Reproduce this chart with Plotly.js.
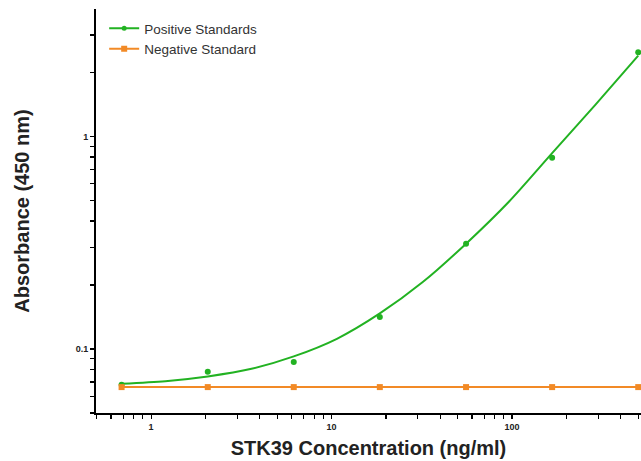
<!DOCTYPE html>
<html>
<head>
<meta charset="utf-8">
<script src="https://cdn.plot.ly/plotly-3.0.1.min.js"></script>
<style>html,body{margin:0;padding:0;background:#fff;}#chart{width:641px;height:461px;}</style>
</head>
<body>
<div id="chart"></div>
<script>
// Concentrations (ng/ml)
var concentrations = [0.686, 2.06, 6.17, 18.5, 55.6, 166.7, 500];
// Measured absorbance, positive standards
var positiveValues = [0.0679, 0.0782, 0.0869, 0.1414, 0.313, 0.794, 2.49];
// Negative standard absorbance
var negativeValues = [0.0662, 0.0662, 0.0662, 0.0662, 0.0662, 0.0662, 0.0662];
// Fitted curve
var fitX = [0.686, 1.2, 2.06, 3.6, 6.17, 10.7, 18.5, 32, 55.6, 96, 166.7, 290, 500];
var fitY = [0.0687, 0.0706, 0.0743, 0.0807, 0.0923, 0.1117, 0.147, 0.2065, 0.313, 0.493, 0.835, 1.413, 2.40];

var xTickVals = [0.5,0.6,0.7,0.8,0.9,1,2,3,4,5,6,7,8,9,10,20,30,40,50,60,70,80,90,100,200,300,400,500];
var xMajor = {1:'1', 10:'10', 100:'100'};
var yTickVals = [0.05,0.06,0.07,0.08,0.09,0.1,0.2,0.3,0.4,0.5,0.6,0.7,0.8,0.9,1,2,3];
var yMajor = {0.1:'0.1', 1:'1'};

function labels(vals, major){ return vals.map(function(v){ return major[v] ? '<b>'+major[v]+'</b>' : ''; }); }

var green = 'rgb(34,178,34)';
var orange = 'rgb(242,138,38)';
var fontFam = 'Liberation Sans, Arial, sans-serif';

var traces = [
  {x: fitX, y: fitY, mode: 'lines', line: {color: green, width: 2, shape: 'spline', smoothing: 0.8}, showlegend: false, hoverinfo: 'skip'},
  {x: concentrations, y: positiveValues, mode: 'markers', marker: {color: green, size: 6, symbol: 'circle'}, showlegend: false},
  {x: [null], y: [null], mode: 'lines+markers', name: 'Positive Standards', line: {color: green, width: 2}, marker: {color: green, size: 5, symbol: 'circle'}},
  {x: concentrations, y: negativeValues, mode: 'lines+markers', name: 'Negative Standard', line: {color: orange, width: 2}, marker: {color: orange, size: 6, symbol: 'square'}}
];

var axisCommon = {
  showgrid: false, zeroline: false, showline: true, linecolor: '#000', linewidth: 2,
  ticks: 'outside', ticklen: 4, tickwidth: 1.2, tickcolor: '#000', tickmode: 'array',
  tickfont: {family: fontFam, size: 9, color: '#222'}
};

var layout = {
  width: 641, height: 461,
  margin: {l: 96, r: 0, t: 9, b: 48},
  paper_bgcolor: '#fff', plot_bgcolor: '#fff',
  showlegend: true,
  legend: {x: 0.015, y: 0.99, xanchor: 'left', yanchor: 'top', bgcolor: 'rgba(0,0,0,0)',
           font: {family: fontFam, size: 13.5, color: '#333'}, tracegroupgap: 0},
  xaxis: Object.assign({}, axisCommon, {
    type: 'log', range: [Math.log10(0.495), Math.log10(518)],
    tickvals: xTickVals, ticktext: labels(xTickVals, xMajor),
    title: {text: '<b>STK39 Concentration (ng/ml)</b>', standoff: 10,
            font: {family: fontFam, size: 20, color: '#222'}}
  }),
  yaxis: Object.assign({}, axisCommon, {
    type: 'log', range: [Math.log10(0.05), Math.log10(3.98)],
    tickvals: yTickVals, ticktext: labels(yTickVals, yMajor),
    title: {text: '<b>Absorbance (450 nm)</b>', standoff: 41,
            font: {family: fontFam, size: 20, color: '#222'}}
  })
};

Plotly.newPlot('chart', traces, layout, {displayModeBar: false, staticPlot: true});
</script>
</body>
</html>
